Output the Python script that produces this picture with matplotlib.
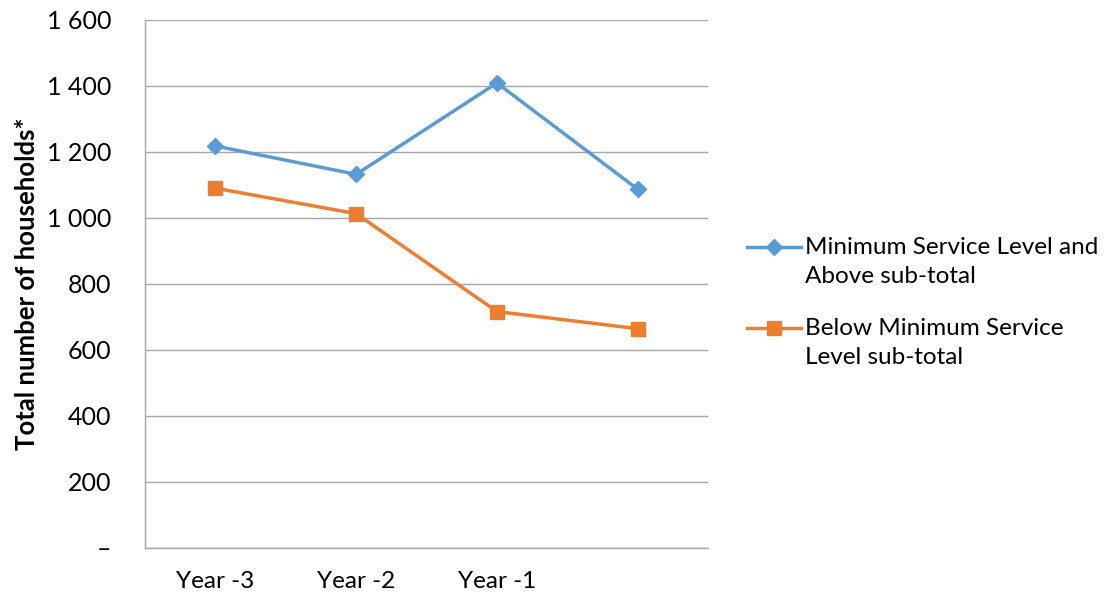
import matplotlib.pyplot as plt
from matplotlib.ticker import FuncFormatter
from matplotlib.transforms import Affine2D

# --- data ---
categorias = ['Year -3', 'Year -2', 'Year -1', '']
arriba_minimo = [1218, 1132, 1409, 1087]
debajo_minimo = [1090, 1013, 716, 664]
etiqueta_arriba = 'Minimum Service Level and\nAbove sub-total'
etiqueta_debajo = 'Below Minimum Service\nLevel sub-total'

azul = '#5B9BD5'
naranja = '#ED7D31'
gris = '#A6A6A6'

plt.rcParams['font.family'] = ['Lato', 'DejaVu Sans']

fig = plt.figure(figsize=(11.11, 5.97), dpi=100)
ax = fig.add_axes([0.1305, 0.0826, 0.5068, 0.8839])

x = range(len(categorias))
ax.plot(x, arriba_minimo, color=azul, lw=2.5, marker='D', markersize=8.5,
        label=etiqueta_arriba)
ax.plot(x, debajo_minimo, color=naranja, lw=2.5, marker='s', markersize=10,
        label=etiqueta_debajo)

ax.set_xlim(-0.5, len(categorias) - 0.5)
ax.set_ylim(0, 1600)
ax.set_yticks(range(0, 1601, 200))
ax.yaxis.set_major_formatter(FuncFormatter(
    lambda v, p: '–' if v == 0 else f'{int(v):,}'.replace(',', ' ')))
ax.set_xticks(list(x))
ax.set_xticklabels(categorias)

ax.grid(axis='y', color=gris, lw=1)
ax.set_axisbelow(True)
for s in ['top', 'right']:
    ax.spines[s].set_visible(False)
for s in ['left', 'bottom']:
    ax.spines[s].set_color(gris)
    ax.spines[s].set_linewidth(1)
ax.tick_params(axis='y', length=0, labelsize=18, pad=24)
ax.tick_params(axis='x', length=0, labelsize=17.5, pad=17)

ax.set_ylabel('Total number of households*', fontsize=18.5, fontweight='bold',
              labelpad=6)

leg = ax.legend(loc='center left', bbox_to_anchor=(1.03, 0.465), frameon=False,
                fontsize=17.5, handlelength=2.25, handletextpad=0.15,
                labelspacing=1.25)
for t in leg.get_texts():
    t.set_linespacing(1.5)
# muestra de la leyenda alineada con la primera línea del texto (como Excel)
for h in leg.legend_handles:
    h.set_transform(h.get_transform() + Affine2D().translate(0, 15))

fig.savefig('out.png', dpi=100)
